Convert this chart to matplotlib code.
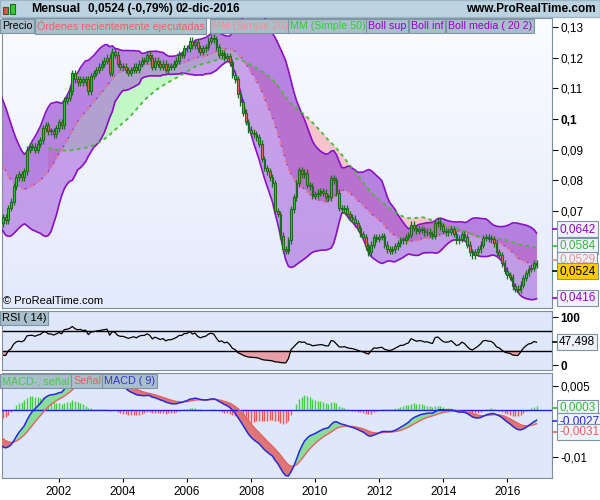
import numpy as np
import pandas as pd
import matplotlib.pyplot as plt
from matplotlib.colors import LinearSegmentedColormap
from matplotlib.patches import Rectangle
from matplotlib.lines import Line2D

plt.rcParams['font.family'] = ['Liberation Sans', 'DejaVu Sans']

# ---- data: monthly closes, Aug 1997 .. Dec 2016 ----
first_year, first_month = 1997, 8
closes = [
    0.098, 0.101, 0.104, 0.106, 0.108,                                                  # 1997 (Aug-Dec)
    0.110, 0.109, 0.107, 0.108, 0.106, 0.104, 0.105, 0.106, 0.103, 0.101, 0.099, 0.097,  # 1998
    0.095, 0.093, 0.091, 0.089, 0.086, 0.082, 0.080, 0.079, 0.081, 0.079, 0.081, 0.078,  # 1999
    0.076, 0.071, 0.066, 0.068, 0.067, 0.071, 0.073, 0.078, 0.081, 0.082, 0.081, 0.083,  # 2000
    0.090, 0.091, 0.091, 0.090, 0.092, 0.093, 0.097, 0.098, 0.096, 0.096, 0.095, 0.097,  # 2001
    0.099, 0.098, 0.106, 0.107, 0.109, 0.115, 0.113, 0.112, 0.113, 0.112, 0.113, 0.109,  # 2002
    0.114, 0.115, 0.116, 0.117, 0.118, 0.119, 0.120, 0.115, 0.122, 0.121, 0.118, 0.117,  # 2003
    0.117, 0.116, 0.115, 0.116, 0.117, 0.116, 0.118, 0.119, 0.119, 0.121, 0.120, 0.117,  # 2004
    0.119, 0.118, 0.117, 0.118, 0.116, 0.117, 0.117, 0.118, 0.119, 0.121, 0.121, 0.123,  # 2005
    0.123, 0.1255, 0.124, 0.125, 0.123, 0.122, 0.123, 0.1235, 0.1255, 0.1265, 0.126, 0.1235,  # 2006
    0.121, 0.1215, 0.120, 0.1205, 0.1185, 0.1145, 0.113, 0.108, 0.1055, 0.102, 0.099, 0.0965,  # 2007
    0.0955, 0.095, 0.094, 0.092, 0.087, 0.084, 0.083, 0.081, 0.079, 0.070, 0.069, 0.062,  # 2008
    0.0575, 0.057, 0.0605, 0.0705, 0.0745, 0.079, 0.0834, 0.082, 0.0825, 0.0785, 0.078, 0.075,  # 2009
    0.0755, 0.076, 0.0765, 0.076, 0.0745, 0.0745, 0.0808, 0.080, 0.076, 0.071, 0.0705, 0.071,  # 2010
    0.069, 0.068, 0.0675, 0.066, 0.0645, 0.0625, 0.0615, 0.0585, 0.0565, 0.059, 0.0615, 0.061,  # 2011
    0.0615, 0.0618, 0.059, 0.0575, 0.057, 0.0575, 0.0585, 0.0595, 0.0605, 0.0605, 0.0615, 0.0622,  # 2012
    0.0655, 0.0645, 0.0635, 0.064, 0.0638, 0.063, 0.0632, 0.0625, 0.062, 0.066, 0.0665, 0.065,  # 2013
    0.0635, 0.063, 0.0632, 0.064, 0.0625, 0.0605, 0.061, 0.0625, 0.0615, 0.059, 0.0565, 0.0555,  # 2014
    0.0565, 0.0575, 0.059, 0.0612, 0.0615, 0.061, 0.0608, 0.0595, 0.0565, 0.0555, 0.053, 0.0505,  # 2015
    0.049, 0.0485, 0.0455, 0.0447, 0.0443, 0.046, 0.0482, 0.0498, 0.0512, 0.0515, 0.053, 0.0524,  # 2016
]
year_ticks = [2002, 2004, 2006, 2008, 2010, 2012, 2014, 2016]
price_ticks = [0.07, 0.08, 0.09, 0.1, 0.11, 0.12, 0.13]
last_labels = {'boll_sup': '0,0642', 'mm50': '0,0584', 'mm20': '0,0529', 'precio': '0,0524',
               'boll_inf': '0,0416', 'rsi': '47,498', 'hist': '0,0003', 'macd': '-0,0027', 'senal': '-0,0031'}

# ---- indicators ----
c = np.array(closes)
t = first_year + (first_month - 1) / 12 + np.arange(len(c)) / 12
o = np.concatenate([[c[0]], c[:-1]])
s = pd.Series(c)
ma20 = s.rolling(20).mean().values
sd20 = s.rolling(20).std(ddof=0).values
up, lo = ma20 + 2 * sd20, ma20 - 2 * sd20
ma50 = s.rolling(50).mean().values
d = s.diff().fillna(0)
g = d.clip(lower=0).ewm(alpha=1 / 14, adjust=False).mean()
l = (-d).clip(lower=0).ewm(alpha=1 / 14, adjust=False).mean()
rsi = (100 - 100 / (1 + g / l)).values
macd = (s.ewm(span=12, adjust=False).mean() - s.ewm(span=26, adjust=False).mean()).values
senal = pd.Series(macd).ewm(span=9, adjust=False).mean().values
hist = macd - senal

XL = (2000.22, 2017.40)
W, H = 600, 500


def fx(x):
    return x / W


def fy(y):
    return 1 - y / H


fig = plt.figure(figsize=(6, 5), dpi=100, facecolor='white')
ax = fig.add_axes([fx(2), fy(308), 550 / W, 290 / H])
ax_r = fig.add_axes([fx(2), fy(370), 550 / W, 59 / H])
ax_m = fig.add_axes([fx(2), fy(478), 550 / W, 105 / H])

for a in (ax, ax_r, ax_m):
    a.set_xlim(*XL)
    for sp in a.spines.values():
        sp.set_color('#7f8c99')
    a.yaxis.tick_right()
    a.tick_params(axis='y', direction='out', length=4, pad=2, labelsize=8.5, colors='black')

# main panel
grad = np.linspace(0, 1, 256).reshape(-1, 1)
cmap = LinearSegmentedColormap.from_list('bg', ['#fbfcff', '#e3eafb'])
ax.imshow(grad, extent=[0, 1, 0, 1], transform=ax.transAxes, aspect='auto', cmap=cmap, zorder=0)
ax.fill_between(t, ma20, ma50, where=ma20 >= ma50, interpolate=True, color='#c4f7c8', lw=0, zorder=1)
ax.fill_between(t, ma20, ma50, where=ma20 < ma50, interpolate=True, color='#f7c4cc', lw=0, zorder=1)
ax.fill_between(t, lo, up, color='#a050d8', alpha=0.52, lw=0, zorder=2)
ax.fill_between(t, ma20, up, color='#8c32c8', alpha=0.25, lw=0, zorder=2)
ax.plot(t, up, color='#8a10c8', lw=1.2, zorder=3)
ax.plot(t, lo, color='#8a10c8', lw=1.2, zorder=3)
ax.plot(t, ma20, color='#9030d0', lw=1, dashes=(4, 3), zorder=3)
ax.plot(t, ma20, color='#f08888', lw=1, dashes=(3, 4), zorder=3)
ax.plot(t, ma50, color='#44bb33', lw=1.3, dashes=(2, 2), zorder=3)

vis = t > XL[0] - 0.1
tv, ov, cv = t[vis], o[vis], c[vis]
bot = np.minimum(ov, cv)
top = np.maximum(ov, cv)
wick = 0.0011
ax.vlines(tv, bot - wick, top + wick, color='#1e6b1e', lw=0.9, zorder=4)
hgt = np.maximum(top - bot, 0.0003)
cols = np.where(cv >= ov, '#33cc33', '#e86a5a')
ax.bar(tv, hgt, bottom=bot, width=0.055, color=cols, edgecolor='#1e6b1e', lw=0.8, zorder=5)

ax.set_ylim(0.03838, 0.13293)
ax.set_yticks(price_ticks)
ax.set_yticklabels([f'{v:g}'.replace('.', ',') for v in price_ticks])
for lab in ax.get_yticklabels():
    if lab.get_text() == '0,1':
        lab.set_fontweight('bold')
ax.set_xticks([])

# RSI panel
ax_r.set_facecolor('#dfe7fb')
ax_r.axhline(70, color='black', lw=1)
ax_r.axhline(30, color='black', lw=1)
ax_r.fill_between(t, rsi, 30, where=rsi < 30, interpolate=True, color='#e8a0a8', lw=0)
ax_r.plot(t, rsi, color='black', lw=0.9)
ax_r.set_ylim(-10.4, 112.5)
ax_r.set_yticks([0, 100])
ax_r.set_yticklabels(['0', '100'], fontweight='bold')
ax_r.set_xticks([])

# MACD panel
ax_m.set_facecolor('#dfe7fb')
hcol = np.where(hist >= 0, '#44cc44', '#ee5555')
ax_m.vlines(t, 0, hist, colors=hcol, lw=1, zorder=2)
ax_m.fill_between(t, macd, senal, where=macd >= senal, interpolate=True, color='#88dd99', lw=0, zorder=3)
ax_m.fill_between(t, macd, senal, where=macd < senal, interpolate=True, color='#dd7777', lw=0, zorder=3)
ax_m.axhline(0, color='#2020dd', lw=1, zorder=3)
ax_m.plot(t, senal, color='#e86060', lw=1, zorder=4)
ax_m.plot(t, macd, color='#2828e0', lw=1.1, zorder=5)
ax_m.set_ylim(-0.0145, 0.0078)
ax_m.set_yticks([-0.01, 0.005])
ax_m.set_yticklabels(['-0,01', '0,005'])
ax_m.set_xticks(year_ticks)
ax_m.set_xticklabels([str(y) for y in year_ticks])
ax_m.tick_params(axis='x', length=3, labelsize=8.5, pad=3)

# header bar
fig.patches.append(Rectangle((0, fy(17)), 1, 17 / H, transform=fig.transFigure, fc='#bcd3e2', ec='#9fb6c6', zorder=0))
fig.patches.append(Rectangle((fx(3), fy(14)), 5 / W, 7 / H, transform=fig.transFigure, fc='#e05050', ec='#1e6b1e', lw=0.8))
fig.patches.append(Rectangle((fx(10), fy(14)), 5 / W, 10 / H, transform=fig.transFigure, fc='#33cc33', ec='#1e6b1e', lw=0.8))
fig.text(fx(31), fy(9), 'Mensual', fontsize=8.8, fontweight='bold', va='center')
fig.text(fx(88), fy(9), '0,0524 (-0,79%)', fontsize=8.5, fontweight='bold', va='center')
fig.text(fx(175), fy(9), '02-dic-2016', fontsize=8.5, fontweight='bold', va='center')
fig.text(fx(596), fy(9), 'www.ProRealTime.com', fontsize=8.5, fontweight='bold', va='center', ha='right')

legend_box = dict(boxstyle='square,pad=0.15', fc='#a9bfcc', ec='#7d95a3', lw=0.8)
main_legend = [(2, 'Precio', 'black'), (37, 'Órdenes recientemente ejecutadas', '#f06060'),
               (212, 'MM (Simple 20)', '#f09090'), (290, 'MM (Simple 50)', '#33cc33'),
               (368, 'Boll sup', '#9900cc'), (411, 'Boll inf', '#9900cc'), (448, 'Boll media ( 20 2)', '#9900cc')]
for x0, txt, col in main_legend:
    fig.text(fx(x0), fy(26), txt, fontsize=7.7, color=col, va='center', bbox=legend_box)
fig.text(fx(3), fy(301), '© ProRealTime.com', fontsize=8, va='center')
fig.text(fx(2), fy(318), 'RSI ( 14)', fontsize=8, va='center', bbox=legend_box)
for x0, txt, col in [(2, 'MACD-, señal', '#44cc44'), (73, 'Señal', '#e86060'), (104, 'MACD ( 9)', '#3333cc')]:
    fig.text(fx(x0), fy(381), txt, fontsize=7.8, color=col, va='center', bbox=legend_box)

# last-value boxes on the right
val_boxes = [(229, last_labels['boll_sup'], '#9900cc', '#eef2fb'),
             (246, last_labels['mm50'], '#33bb33', '#eef2fb'),
             (260, last_labels['mm20'], '#f09090', '#eef2fb'),
             (271, last_labels['precio'], 'black', '#ffcc00'),
             (298, last_labels['boll_inf'], '#9900cc', '#eef2fb'),
             (342, last_labels['rsi'], 'black', '#eef2fb'),
             (408, last_labels['hist'], '#33bb33', '#eef2fb'),
             (421, last_labels['macd'], '#2828e0', '#eef2fb'),
             (432, last_labels['senal'], '#e86060', '#eef2fb')]
for y0, txt, col, fc in val_boxes:
    fig.text(fx(559), fy(y0), txt, fontsize=8.5, color=col, va='center',
             bbox=dict(boxstyle='square,pad=0.2', fc=fc, ec='#7d95a3', lw=0.8))
    fig.add_artist(Line2D([fx(553), fx(557)], [fy(y0), fy(y0)], color=col, lw=1.2, transform=fig.transFigure))

fig.savefig('out.png', dpi=100)
